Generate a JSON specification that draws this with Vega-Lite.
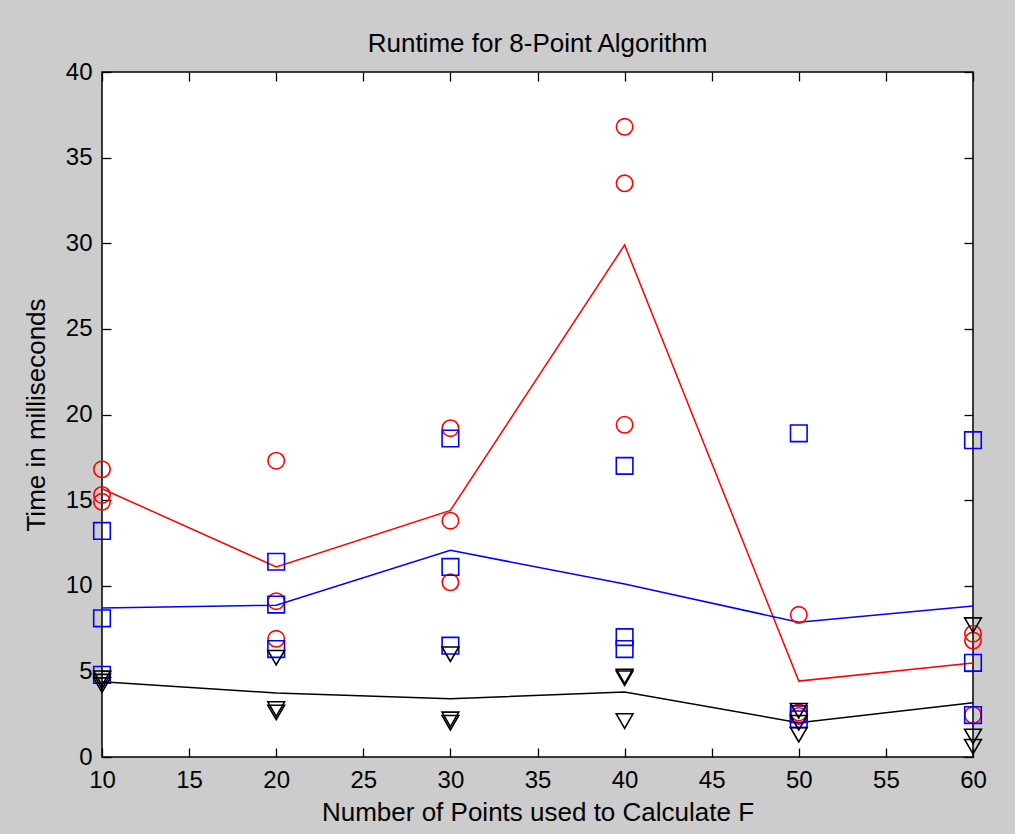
{
  "$schema": "https://vega.github.io/schema/vega-lite/v6.json",
  "width": 871,
  "height": 685,
  "autosize": {"type": "none"},
  "padding": {"left": 102, "top": 72, "right": 42, "bottom": 77},
  "background": "#cccccc",
  "config": {
    "font": "Liberation Sans",
    "view": {"fill": "white", "stroke": "black", "strokeWidth": 1.5},
    "axis": {
      "grid": false,
      "domain": false,
      "tickColor": "black",
      "tickWidth": 1.3,
      "tickSize": -9,
      "labelColor": "black",
      "labelFontSize": 24,
      "labelFlush": false,
      "labelOverlap": false,
      "labelBound": false,
      "titleColor": "black",
      "titleFontSize": 26,
      "titleFontWeight": "normal"
    }
  },
  "title": {
    "text": "Runtime for 8-Point Algorithm",
    "fontSize": 26,
    "fontWeight": "normal",
    "color": "black",
    "anchor": "middle",
    "baseline": "alphabetic",
    "offset": -18
  },
  "data": {
    "values": [
      {"series": "A", "n": 10, "t": 16.8},
      {"series": "A", "n": 10, "t": 15.3},
      {"series": "A", "n": 10, "t": 14.9},
      {"series": "A", "n": 20, "t": 17.3},
      {"series": "A", "n": 20, "t": 9.1},
      {"series": "A", "n": 20, "t": 6.9},
      {"series": "A", "n": 30, "t": 19.2},
      {"series": "A", "n": 30, "t": 13.8},
      {"series": "A", "n": 30, "t": 10.2},
      {"series": "A", "n": 40, "t": 36.8},
      {"series": "A", "n": 40, "t": 33.5},
      {"series": "A", "n": 40, "t": 19.4},
      {"series": "A", "n": 50, "t": 8.3},
      {"series": "A", "n": 50, "t": 2.6},
      {"series": "A", "n": 50, "t": 2.4},
      {"series": "A", "n": 60, "t": 7.2},
      {"series": "A", "n": 60, "t": 6.8},
      {"series": "A", "n": 60, "t": 2.45},
      {"series": "B", "n": 10, "t": 13.2},
      {"series": "B", "n": 10, "t": 8.1},
      {"series": "B", "n": 10, "t": 4.8},
      {"series": "B", "n": 20, "t": 11.4},
      {"series": "B", "n": 20, "t": 8.9},
      {"series": "B", "n": 20, "t": 6.3},
      {"series": "B", "n": 30, "t": 18.6},
      {"series": "B", "n": 30, "t": 11.1},
      {"series": "B", "n": 30, "t": 6.5},
      {"series": "B", "n": 40, "t": 17.0},
      {"series": "B", "n": 40, "t": 7.0},
      {"series": "B", "n": 40, "t": 6.3},
      {"series": "B", "n": 50, "t": 18.9},
      {"series": "B", "n": 50, "t": 2.5},
      {"series": "B", "n": 50, "t": 2.2},
      {"series": "B", "n": 60, "t": 18.5},
      {"series": "B", "n": 60, "t": 5.5},
      {"series": "B", "n": 60, "t": 2.45},
      {"series": "C", "n": 10, "t": 4.6},
      {"series": "C", "n": 10, "t": 4.4},
      {"series": "C", "n": 10, "t": 4.2},
      {"series": "C", "n": 20, "t": 5.8},
      {"series": "C", "n": 20, "t": 2.8},
      {"series": "C", "n": 20, "t": 2.6},
      {"series": "C", "n": 30, "t": 6.0},
      {"series": "C", "n": 30, "t": 2.2},
      {"series": "C", "n": 30, "t": 2.0},
      {"series": "C", "n": 40, "t": 4.7},
      {"series": "C", "n": 40, "t": 4.6},
      {"series": "C", "n": 40, "t": 2.1},
      {"series": "C", "n": 50, "t": 2.7},
      {"series": "C", "n": 50, "t": 2.0},
      {"series": "C", "n": 50, "t": 1.3},
      {"series": "C", "n": 60, "t": 7.7},
      {"series": "C", "n": 60, "t": 1.2},
      {"series": "C", "n": 60, "t": 0.6}
    ]
  },
  "resolve": {"axis": {"x": "independent", "y": "independent"}},
  "layer": [
    {
      "mark": {"type": "line", "strokeWidth": 1.5, "clip": false},
      "encoding": {
        "x": {
          "field": "n", "type": "quantitative",
          "scale": {"domain": [10, 60], "nice": false, "zero": false},
          "axis": {"orient": "top", "labels": false, "title": null, "values": [10, 15, 20, 25, 30, 35, 40, 45, 50, 55, 60]}
        },
        "y": {
          "field": "t", "type": "quantitative", "aggregate": "mean",
          "scale": {"domain": [0, 40], "nice": false},
          "axis": {"orient": "right", "labels": false, "title": null, "values": [0, 5, 10, 15, 20, 25, 30, 35, 40]}
        },
        "color": {
          "field": "series", "type": "nominal",
          "scale": {"domain": ["A", "B", "C"], "range": ["#ff0000", "#0000ff", "#000000"]},
          "legend": null
        }
      }
    },
    {
      "mark": {"type": "point", "filled": false, "strokeWidth": 1.6, "opacity": 1, "clip": false},
      "encoding": {
        "x": {
          "field": "n", "type": "quantitative",
          "scale": {"domain": [10, 60], "nice": false, "zero": false},
          "axis": {"orient": "bottom", "title": "Number of Points used to Calculate F", "values": [10, 15, 20, 25, 30, 35, 40, 45, 50, 55, 60], "labelPadding": 20, "titlePadding": 7}
        },
        "y": {
          "field": "t", "type": "quantitative",
          "scale": {"domain": [0, 40], "nice": false},
          "axis": {"orient": "left", "title": "Time in milliseconds", "values": [0, 5, 10, 15, 20, 25, 30, 35, 40], "labelPadding": 19, "titlePadding": 16}
        },
        "color": {
          "field": "series", "type": "nominal",
          "scale": {"domain": ["A", "B", "C"], "range": ["#ff0000", "#0000ff", "#000000"]},
          "legend": null
        },
        "shape": {
          "field": "series", "type": "nominal",
          "scale": {"domain": ["A", "B", "C"], "range": ["circle", "square", "triangle-down"]},
          "legend": null
        },
        "size": {
          "field": "series", "type": "nominal",
          "scale": {"domain": ["A", "B", "C"], "range": [270, 280, 320]},
          "legend": null
        }
      }
    }
  ]
}
